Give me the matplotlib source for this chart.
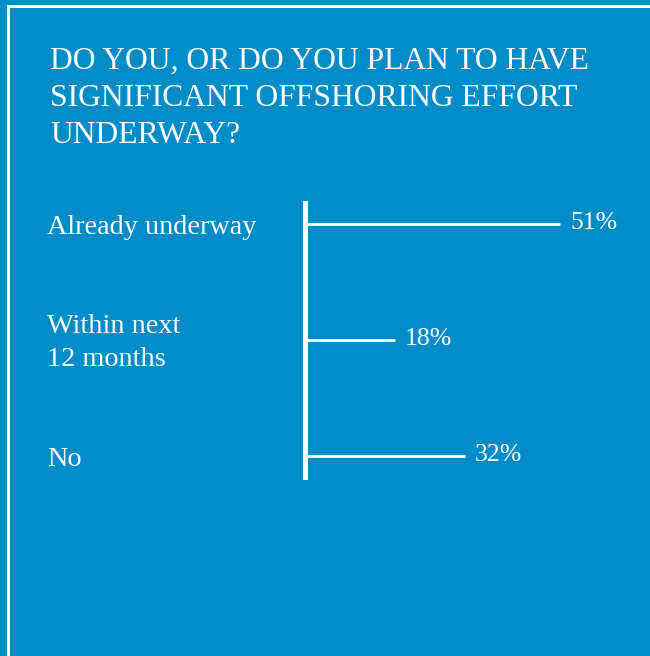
import matplotlib.pyplot as plt
from matplotlib.lines import Line2D
import matplotlib.transforms as mtransforms

# survey answers
categories = ['Already underway', 'Within next\n12 months', 'No']
values = [51, 18, 32]
labels = ['51%', '18%', '32%']
title = 'DO YOU, OR DO YOU PLAN TO HAVE\nSIGNIFICANT OFFSHORING EFFORT\nUNDERWAY?'

W, H = 650, 656
bg = '#008cc6'
serif = ['Liberation Serif', 'DejaVu Serif']

fig = plt.figure(figsize=(W / 100, H / 100), dpi=100, facecolor=bg)

# white frame on top and left
fig.add_artist(Line2D([8 / W, 1], [1 - 6 / H, 1 - 6 / H], color='white', lw=2.2,
                      transform=fig.transFigure))
fig.add_artist(Line2D([8 / W, 8 / W], [0, 1 - 6 / H], color='white', lw=2.2,
                      transform=fig.transFigure))

fig.text(50 / W, 1 - 47 / H, title, color='white', fontsize=22.8, family=serif,
         va='top', ha='left', linespacing=1.36)

# axes: x=0 at 305px, 5px per percent; rows at 224, 341, 456 px
top, bot = 203, 477
ax = fig.add_axes([305 / W, 1 - bot / H, 300 / W, (bot - top) / H])
ax.set_facecolor('none')
ax.set_xlim(0, 60)
ys = list(range(len(values)))
ax.set_ylim(2 + 21 / 116, -21 / 116)
for s in ['top', 'right', 'bottom']:
    ax.spines[s].set_visible(False)
ax.spines['left'].set_color('white')
ax.spines['left'].set_linewidth(3.6)
ax.set_xticks([])
ax.set_yticks([])

ax.hlines(ys, 0, values, color='white', lw=2.0)
for y, v, lab in zip(ys, values, labels):
    ax.annotate(lab, (v, y), xytext=(10, 1), textcoords='offset pixels',
                color='white', fontsize=18.5, family=serif, va='center', ha='left')

tr = mtransforms.blended_transform_factory(fig.transFigure, ax.transData)
off = mtransforms.ScaledTranslation(0, -3 / 100, fig.dpi_scale_trans)
for y, c in zip(ys, categories):
    ax.text(47 / W, y, c, transform=tr + off, color='white', fontsize=20.3,
            family=serif, va='center', ha='left', linespacing=1.38)

fig.savefig('out.png', dpi=100, facecolor=bg)
